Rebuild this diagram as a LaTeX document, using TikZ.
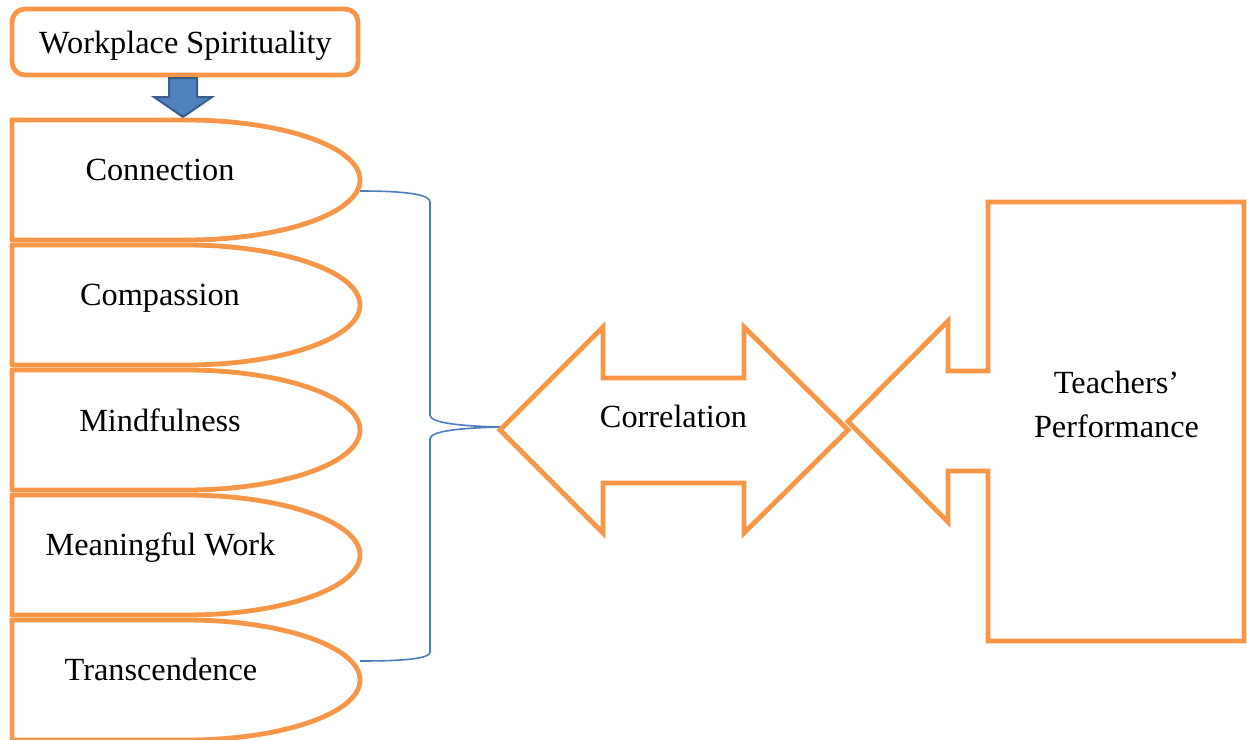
\documentclass[tikz,border=0pt]{standalone}
\usepackage{fontspec}
\setmainfont{Liberation Serif}
\definecolor{orng}{HTML}{F79646}
\definecolor{bline}{HTML}{4A7EBB}
\definecolor{bfill}{HTML}{4F81BD}
\definecolor{bdraw}{HTML}{385D8A}
\tikzset{
  obox/.style={draw=orng, line width=4.8pt, line join=round, fill=white},
  lbl/.style={inner sep=0pt, anchor=base, font=\fontsize{32.3}{38}\selectfont},
  bracel/.style={draw=bline, line width=1.6pt},
}
\begin{document}
\begin{tikzpicture}[x=1pt,y=-1pt]
\useasboundingbox (0,0) rectangle (1247,739);
\clip (0,0) rectangle (1247,739);
\fill[white] (0,0) rectangle (1247,739);
% top box
\draw[obox, rounded corners=13pt] (12,9) rectangle (358,75);
\node[lbl] (ws) at (185.5,53) {Workplace Spirituality};
\coordinate (wsb) at (183,77);
% blue down arrow
\draw[fill=bfill, draw=bdraw, line width=2pt, line join=miter]
  (169,78) -- (197,78) -- (197,97) -- (212,97) -- (183,117) -- (154,97) -- (169,97) -- cycle;
% delay shapes
\foreach \yt/\nm in {120/s1,245/s2,370/s3,495/s4,620/s5}{
  \draw[obox] (12,\yt) -- (186,\yt) arc[start angle=270,end angle=450,x radius=174,y radius=60] -- (12,\yt+120) -- cycle;
}
\node[lbl] (c1) at (160,180) {Connection};
\node[lbl] (c2) at (160,305) {Compassion};
\node[lbl] (c3) at (160,431) {Mindfulness};
\node[lbl] (c4) at (160.5,555) {Meaningful Work};
\node[lbl] (c5) at (161,680) {Transcendence};
\coordinate (bt) at (360,191);
\coordinate (bb) at (360,661);
\coordinate (tip) at (500,427);
% brace
\draw[bracel] (bt) .. controls (410,191) and (430,195) .. (430,202) -- (430,415)
  .. controls (430,423) and (460,426) .. (tip);
\draw[bracel] (tip) .. controls (460,428) and (430,431) .. (430,439) -- (430,652)
  .. controls (430,658) and (410,661) .. (bb);
% correlation double arrow
\draw[obox, line join=miter] (500,430) -- (603,327) -- (603,378) -- (744,378) -- (744,327) -- (848,430)
  -- (744,533) -- (744,483) -- (603,483) -- (603,533) -- cycle;
\node[lbl] (corr) at (673.5,427) {Correlation};
% teachers' performance callout
\draw[obox, line join=miter] (988,202) -- (1244,202) -- (1244,641) -- (988,641) -- (988,471) -- (948,471)
  -- (948,522) -- (848,421.5) -- (948,321) -- (948,371) -- (988,371) -- cycle;
\node[lbl] (tp1) at (1116.5,393) {Teachers’};
\node[lbl] (tp2) at (1116.5,437) {Performance};
\end{tikzpicture}
\end{document}
